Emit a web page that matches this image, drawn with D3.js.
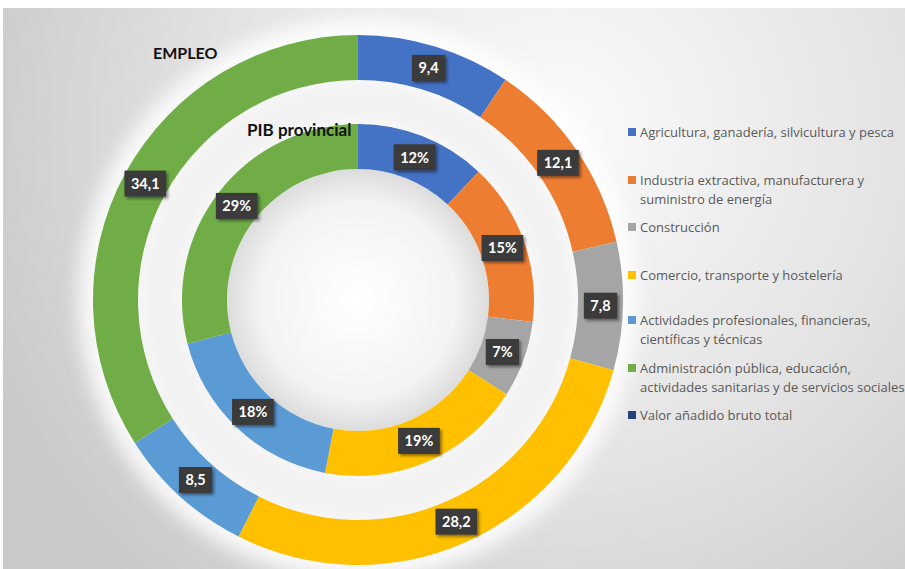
<!DOCTYPE html>
<html><head><meta charset="utf-8">
<script src="https://cdn.jsdelivr.net/npm/d3@7"></script>
<style>html,body{margin:0;padding:0;background:#fff;overflow:hidden}</style>
</head><body>
<svg id="c" width="905" height="569"></svg>
<script>
const categories = [
  "Agricultura, ganadería, silvicultura y pesca",
  "Industria extractiva, manufacturera y suministro de energía",
  "Construcción",
  "Comercio, transporte y hostelería",
  "Actividades profesionales, financieras, científicas y técnicas",
  "Administración pública, educación, actividades sanitarias y de servicios sociales"
];
const legendLabels = [
  ["Agricultura, ganadería, silvicultura y pesca"],
  ["Industria extractiva, manufacturera y", "suministro de energía"],
  ["Construcción"],
  ["Comercio, transporte y hostelería"],
  ["Actividades profesionales, financieras,", "científicas y técnicas"],
  ["Administración pública, educación,", "actividades sanitarias y de servicios sociales"],
  ["Valor añadido bruto total"]
];
const empleoValues = [9.4, 12.1, 7.8, 28.2, 8.5, 34.1];
const pibValues = [12, 15, 7, 19, 18, 29];
const colors = ["#4472C4", "#ED7D31", "#A5A5A5", "#FFC000", "#5B9BD5", "#70AD47", "#264478"];

const svg = d3.select("#c");
const defs = svg.append("defs");
const font = "Lato, 'Open Sans', sans-serif";
const legendFont = "'Open Sans', sans-serif";

const bg = defs.append("radialGradient").attr("id","bg").attr("gradientUnits","userSpaceOnUse")
  .attr("cx",560).attr("cy",130).attr("r",620);
bg.append("stop").attr("offset","0").attr("stop-color","#fbfbfb");
bg.append("stop").attr("offset","0.55").attr("stop-color","#e3e3e3");
bg.append("stop").attr("offset","1").attr("stop-color","#c9c9c9");

const hole = defs.append("radialGradient").attr("id","hole");
hole.append("stop").attr("offset","0").attr("stop-color","#ffffff");
hole.append("stop").attr("offset","0.75").attr("stop-color","#f3f3f3");
hole.append("stop").attr("offset","1").attr("stop-color","#dcdcdc");

const blur = defs.append("filter").attr("id","glow").attr("x","-30%").attr("y","-30%").attr("width","160%").attr("height","160%");
blur.append("feGaussianBlur").attr("stdDeviation",9);

const sh = defs.append("filter").attr("id","sh").attr("x","-30%").attr("y","-30%").attr("width","170%").attr("height","170%");
sh.append("feDropShadow").attr("dx",2).attr("dy",2).attr("stdDeviation",1.6).attr("flood-color","#000").attr("flood-opacity",0.45);

svg.append("rect").attr("x",3).attr("y",8).attr("width",902).attr("height",561).attr("fill","url(#bg)");

const cx = 358, cy = 300;
const g = svg.append("g").attr("transform",`translate(${cx},${cy})`);

g.append("path").attr("d", d3.arc()({innerRadius:118,outerRadius:280,startAngle:0,endAngle:2*Math.PI}))
  .attr("fill","#ffffff").attr("opacity",0.85).attr("filter","url(#glow)");
g.append("circle").attr("r",131).attr("fill","url(#hole)");
g.append("path").attr("d", d3.arc()({innerRadius:176,outerRadius:220,startAngle:0,endAngle:2*Math.PI}))
  .attr("fill","#f2f2f2").attr("filter","url(#glow)");

const pie = d3.pie().sort(null).value(d=>d).startAngle(0).endAngle(2*Math.PI);
const rings = [
  {vals: empleoValues, ri: 220, ro: 265, fmt: v => String(v).replace(".", ",")},
  {vals: pibValues, ri: 131, ro: 176, fmt: v => v + "%"}
];
rings.forEach(r => {
  const arc = d3.arc().innerRadius(r.ri).outerRadius(r.ro);
  const arcs = pie(r.vals);
  g.append("g").selectAll("path").data(arcs).join("path")
    .attr("d", arc).attr("fill", (d,i)=>colors[i]);
  const lab = g.append("g").selectAll("g").data(arcs).join("g")
    .attr("transform", d => `translate(${arc.centroid(d)})`);
  lab.each(function(d){
    const s = d3.select(this);
    const t = s.append("text").attr("text-anchor","middle").attr("dy","0.36em")
      .attr("font-family",font).attr("font-weight","bold").attr("font-size",14.5)
      .attr("fill","#ffffff").text(r.fmt(d.data));
    const w = t.node().getComputedTextLength() + 13;
    s.insert("rect","text").attr("x",-w/2).attr("y",-13).attr("width",w).attr("height",26)
      .attr("fill","#3b3b3b").attr("filter","url(#sh)");
  });
});

svg.append("text").attr("x",153).attr("y",59).attr("font-family",font).attr("font-weight","bold")
  .attr("font-size",16).attr("fill","#111").text("EMPLEO");
svg.append("text").attr("x",247).attr("y",136).attr("font-family",font).attr("font-weight","bold")
  .attr("font-size",17).attr("fill","#111").text("PIB provincial");

const legendY = [132, 180, 227, 275, 320, 368, 415];
const lg = svg.append("g");
legendLabels.forEach((lines, i) => {
  lg.append("rect").attr("x",628).attr("y",legendY[i]-4).attr("width",8).attr("height",8).attr("fill",colors[i]);
  lines.forEach((ln, j) => {
    lg.append("text").attr("x",640).attr("y",legendY[i] + j*19).attr("dy","0.35em")
      .attr("font-family",legendFont).attr("font-size",13).attr("fill","#595959").text(ln);
  });
});
</script>
</body></html>
